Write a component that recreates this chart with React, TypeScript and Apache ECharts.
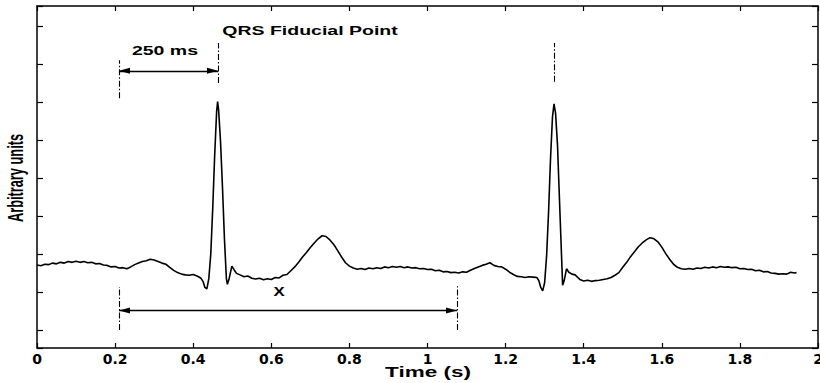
import React, { useEffect, useRef } from "react";
import * as echarts from "echarts";

// ECG trace: time (s) and amplitude (arbitrary units)
const timeS: number[] = [
  0.0, 0.01, 0.02, 0.03, 0.04, 0.05, 0.06, 0.07, 0.08, 0.09,
  0.1, 0.11, 0.12, 0.13, 0.14, 0.15, 0.16, 0.17, 0.18, 0.19,
  0.2, 0.21, 0.22, 0.23, 0.24, 0.25, 0.26, 0.27, 0.28, 0.29,
  0.3, 0.31, 0.32, 0.33, 0.34, 0.35, 0.36, 0.37, 0.38, 0.39,
  0.4, 0.41,
  0.42, 0.425, 0.43, 0.435, 0.44, 0.445, 0.45, 0.455, 0.46, 0.4625,
  0.465, 0.47, 0.475, 0.48, 0.485, 0.4875, 0.492, 0.499, 0.505, 0.511,
  0.52, 0.53, 0.54, 0.55, 0.56, 0.57, 0.58, 0.59, 0.6, 0.61,
  0.62, 0.63, 0.64, 0.65, 0.66, 0.67, 0.68, 0.69, 0.7, 0.71,
  0.72, 0.73, 0.74, 0.75, 0.76, 0.77, 0.78, 0.79, 0.8, 0.81,
  0.82, 0.83, 0.84, 0.85, 0.86, 0.87, 0.88, 0.89, 0.9, 0.91,
  0.92, 0.93, 0.94, 0.95, 0.96, 0.97, 0.98, 0.99, 1.0, 1.01,
  1.02, 1.03, 1.04, 1.05, 1.06, 1.07, 1.08, 1.09, 1.1, 1.11,
  1.12, 1.13, 1.14, 1.15, 1.16, 1.17, 1.18, 1.19, 1.2, 1.21,
  1.22, 1.23, 1.24, 1.25, 1.26, 1.27, 1.28,
  1.285, 1.29, 1.295, 1.3, 1.305, 1.31, 1.315, 1.32, 1.324, 1.328,
  1.333, 1.337, 1.342, 1.346, 1.35, 1.356, 1.362, 1.37, 1.378, 1.385,
  1.39, 1.4, 1.41, 1.42, 1.43, 1.44, 1.45, 1.46, 1.47, 1.48,
  1.49, 1.5, 1.51, 1.52, 1.53, 1.54, 1.55, 1.56, 1.57, 1.58,
  1.59, 1.6, 1.61, 1.62, 1.63, 1.64, 1.65, 1.66, 1.67, 1.68,
  1.69, 1.7, 1.71, 1.72, 1.73, 1.74, 1.75, 1.76, 1.77, 1.78,
  1.79, 1.8, 1.81, 1.82, 1.83, 1.84, 1.85, 1.86, 1.87, 1.88,
  1.89, 1.9, 1.91, 1.92, 1.93, 1.94, 1.945,
];

const amplitude: number[] = [
  1.71, 1.69, 1.73, 1.72, 1.76, 1.74, 1.78, 1.76, 1.8, 1.78,
  1.81, 1.78, 1.8, 1.77, 1.78, 1.74, 1.75, 1.71, 1.7, 1.66,
  1.67, 1.63, 1.64, 1.61, 1.66, 1.72, 1.76, 1.8, 1.82, 1.86,
  1.84, 1.8, 1.76, 1.73, 1.65, 1.57, 1.51, 1.47, 1.45, 1.44,
  1.46, 1.42,
  1.36, 1.28, 1.12, 1.08, 1.35, 2.0, 3.2, 4.6, 5.75, 6.01,
  5.8, 4.95, 3.75, 2.4, 1.35, 1.2, 1.35, 1.68, 1.58, 1.49,
  1.45, 1.4, 1.42, 1.36, 1.34, 1.36, 1.32, 1.35, 1.33, 1.38,
  1.37, 1.44, 1.46, 1.56, 1.66, 1.78, 1.92, 2.04, 2.17, 2.29,
  2.4, 2.48, 2.46, 2.37, 2.25, 2.09, 1.92, 1.77, 1.68, 1.63,
  1.6, 1.62, 1.59, 1.63, 1.61, 1.64, 1.62, 1.66, 1.64, 1.67,
  1.65, 1.67, 1.64, 1.66, 1.63, 1.64, 1.61, 1.62, 1.59, 1.6,
  1.56, 1.57, 1.53, 1.54, 1.51, 1.52, 1.5, 1.53, 1.52, 1.57,
  1.62, 1.66, 1.7, 1.73, 1.77, 1.7, 1.67, 1.66, 1.6, 1.52,
  1.46, 1.41, 1.4, 1.38, 1.4, 1.39, 1.38,
  1.3, 1.12, 1.03, 1.25, 1.95, 3.1, 4.5, 5.6, 5.95, 5.7,
  4.85, 3.7, 2.3, 1.18, 1.3, 1.61, 1.52, 1.47, 1.45, 1.38,
  1.33, 1.29, 1.31, 1.28, 1.3, 1.31, 1.33, 1.35, 1.38, 1.44,
  1.51, 1.65, 1.78, 1.93, 2.06, 2.19, 2.29, 2.37, 2.43, 2.4,
  2.32, 2.18, 2.01, 1.86, 1.73, 1.65, 1.61, 1.6, 1.62, 1.6,
  1.63, 1.62, 1.65, 1.63, 1.66, 1.64, 1.67, 1.65, 1.66, 1.64,
  1.65, 1.61, 1.62, 1.59, 1.6, 1.56, 1.57, 1.53, 1.54, 1.5,
  1.49, 1.47, 1.48, 1.47, 1.52, 1.5, 1.51,
];

const xTickLabels: string[] = ["0", "0.2", "0.4", "0.6", "0.8", "1", "1.2", "1.4", "1.6", "1.8", "2"];

// dash-dot fiducial markers: [time, yFrom, yTo]
const fiducialMarkers: number[][] = [
  [0.21, 6.1, 7.1],
  [0.4635, 6.5, 7.55],
  [1.324, 6.53, 7.55],
  [0.21, 0.0, 1.13],
  [1.0755, 0.0, 1.15],
];

// double arrows: [timeFrom, timeTo, y]
const intervalArrows: number[][] = [
  [0.21, 0.4635, 6.82],
  [0.21, 1.0755, 0.51],
];

const titleText = "QRS Fiducial Point";
const windowText = "250 ms";
const intervalText = "X";
const xAxisTitle = "Time (s)";
const yAxisTitle = "Arbitrary units";

const Y_MIN = -0.474;
const Y_MAX = 8.526;

export default function App() {
  const ref = useRef<HTMLDivElement>(null);

  useEffect(() => {
    if (!ref.current) return;
    const chart = echarts.init(ref.current, null, { renderer: "svg" });

    const labelFont = "'Liberation Sans', Arial, sans-serif";
    const arrowPath = "path://M5,10 L10,20 L0,20 Z M5,0 L5,0";

    const baseX = {
      type: "value" as const,
      min: 0,
      max: 2,
      interval: 0.2,
      splitLine: { show: false },
      axisLine: { show: true, onZero: false, lineStyle: { color: "#000", width: 1.5 } },
      axisTick: { show: true, inside: true, length: 5, lineStyle: { color: "#000", width: 1.2 } },
    };
    const baseY = {
      type: "value" as const,
      min: Y_MIN,
      max: Y_MAX,
      splitNumber: 9,
      splitLine: { show: false },
      axisLabel: { show: false },
      axisLine: { show: true, onZero: false, lineStyle: { color: "#000", width: 1.5 } },
      axisTick: { show: true, inside: true, length: 6, lineStyle: { color: "#000", width: 1.2 } },
    };

    chart.setOption({
      animation: false,
      backgroundColor: "#fff",
      grid: { left: 37, right: 2, top: 6, bottom: 35, outerBoundsMode: "none", containLabel: false },
      xAxis: [
        {
          ...baseX,
          position: "bottom",
          axisLabel: {
            show: true,
            color: "#000",
            fontFamily: "'DejaVu Sans', sans-serif",
            fontWeight: "bold",
            fontSize: 14,
            margin: 4,
            hideOverlap: false,
            formatter: (v: number) => xTickLabels[Math.round(v / 0.2)] ?? "",
          },
        },
        { ...baseX, position: "top", axisLabel: { show: false } },
      ],
      yAxis: [
        { ...baseY, position: "left" },
        { ...baseY, position: "right" },
      ],
      series: [
        {
          type: "line",
          data: timeS.map((t, i) => [t, amplitude[i]]),
          showSymbol: false,
          symbol: "none",
          lineStyle: { color: "#000", width: 1.6 },
          silent: true,
          z: 3,
        },
        {
          type: "line",
          data: [],
          silent: true,
          markLine: {
            silent: true,
            symbol: ["none", "none"],
            label: { show: false },
            lineStyle: { color: "#000", width: 1.1, type: [6, 2, 1.5, 2] },
            emphasis: { disabled: true },
            data: fiducialMarkers.map(([t, a, b]) => [{ coord: [t, a] }, { coord: [t, b] }]),
          },
        },
        {
          type: "line",
          data: [],
          silent: true,
          markLine: {
            silent: true,
            symbol: [arrowPath, arrowPath],
            symbolSize: [6, 22],
            label: { show: false },
            lineStyle: { color: "#000", width: 1.3, type: "solid" },
            itemStyle: { color: "#000" },
            emphasis: { disabled: true },
            data: intervalArrows.map(([a, b, y]) => [{ coord: [a, y] }, { coord: [b, y] }]),
          },
        },
      ],
      graphic: [
        {
          type: "text",
          x: 310,
          y: 31,
          scaleX: 1.5,
          silent: true,
          style: { text: titleText, fontFamily: labelFont, fontWeight: "bold", fontSize: 13, fill: "#000", align: "center", verticalAlign: "middle" },
        },
        {
          type: "text",
          x: 165,
          y: 51,
          scaleX: 1.5,
          silent: true,
          style: { text: windowText, fontFamily: labelFont, fontWeight: "bold", fontSize: 13, fill: "#000", align: "center", verticalAlign: "middle" },
        },
        {
          type: "text",
          x: 279,
          y: 292,
          scaleX: 1.4,
          silent: true,
          style: { text: intervalText, fontFamily: labelFont, fontWeight: "bold", fontSize: 12, fill: "#000", align: "center", verticalAlign: "middle" },
        },
        {
          type: "text",
          x: 428,
          y: 372,
          scaleX: 1.5,
          silent: true,
          style: { text: xAxisTitle, fontFamily: labelFont, fontWeight: "bold", fontSize: 15, fill: "#000", align: "center", verticalAlign: "middle" },
        },
        {
          type: "text",
          x: 15,
          y: 178,
          rotation: Math.PI / 2,
          scaleY: 1.75,
          silent: true,
          style: { text: yAxisTitle, fontFamily: labelFont, fontWeight: "bold", fontSize: 12.8, fill: "#000", align: "center", verticalAlign: "middle" },
        },
      ],
    });

    return () => chart.dispose();
  }, []);

  return (
    <div
      ref={ref}
      style={{ position: "absolute", left: 0, top: 0, width: 820, height: 383, background: "#fff" }}
    />
  );
}
